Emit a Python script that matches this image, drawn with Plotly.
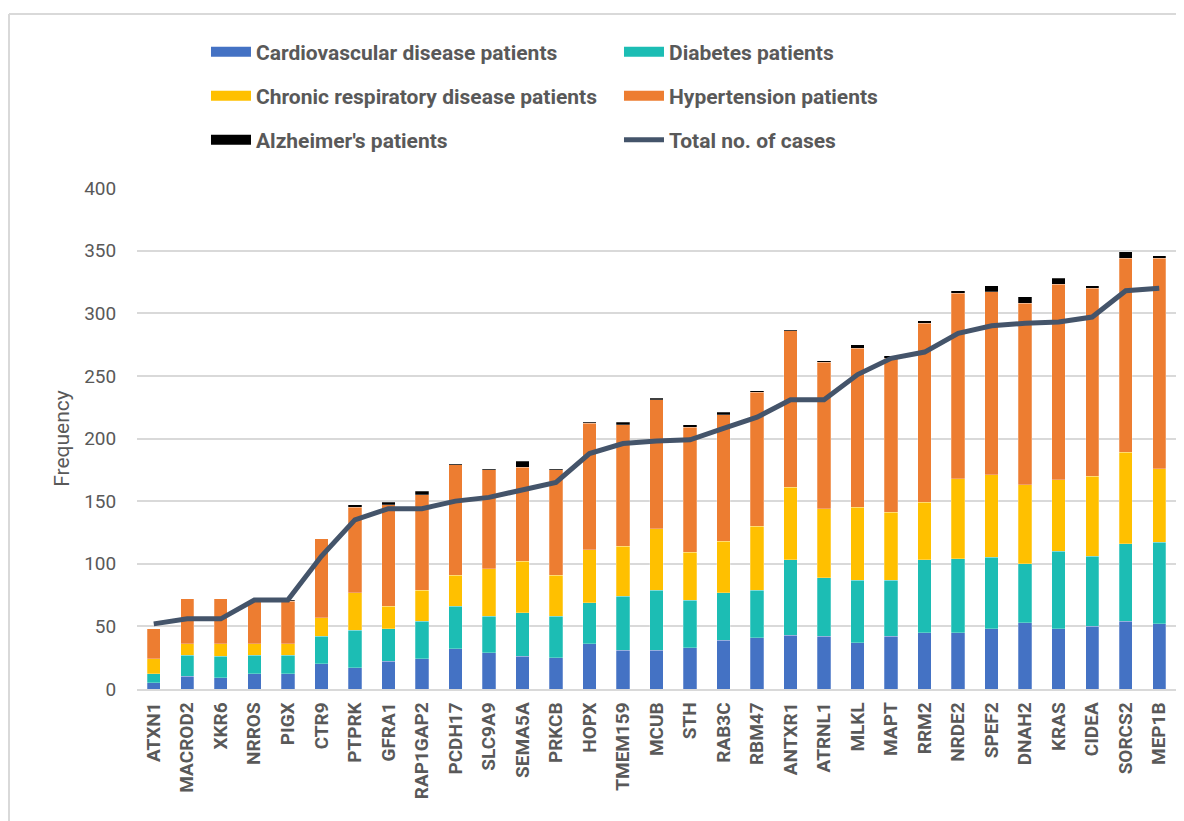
import plotly.graph_objects as go

genes = ["ATXN1", "MACROD2", "XKR6", "NRROS", "PIGX", "CTR9", "PTPRK", "GFRA1", "RAP1GAP2",
         "PCDH17", "SLC9A9", "SEMA5A", "PRKCB", "HOPX", "TMEM159", "MCUB", "STH", "RAB3C",
         "RBM47", "ANTXR1", "ATRNL1", "MLKL", "MAPT", "RRM2", "NRDE2", "SPEF2", "DNAH2",
         "KRAS", "CIDEA", "SORCS2", "MEP1B"]

cardiovascular = [5, 10, 9, 12, 12, 20, 17, 22, 24, 32, 29, 26, 25, 36, 31, 31, 33, 39, 41,
                  43, 42, 37, 42, 45, 45, 48, 53, 48, 50, 54, 52]
diabetes = [7, 17, 17, 15, 15, 22, 30, 26, 30, 34, 29, 35, 33, 33, 43, 48, 38, 38, 38,
            60, 47, 50, 45, 58, 59, 57, 47, 62, 56, 62, 65]
respiratory = [12, 9, 10, 9, 9, 15, 30, 18, 25, 25, 38, 41, 33, 42, 40, 49, 38, 41, 51,
               58, 55, 58, 54, 46, 64, 66, 63, 57, 64, 73, 59]
hypertension = [24, 36, 36, 34, 34, 63, 68, 81, 76, 88, 79, 75, 84, 101, 97, 103, 100, 101, 107,
                125, 117, 127, 123, 143, 148, 146, 145, 156, 150, 155, 168]
alzheimers = [0, 0, 0, 0, 1, 0, 2, 2, 3, 1, 1, 5, 1, 1, 2, 1, 2, 2, 1,
              1, 1, 3, 2, 2, 2, 5, 5, 5, 2, 5, 2]
total_cases = [52, 56, 56, 71, 71, 106, 135, 144, 144, 150, 153, 159, 165, 188, 196, 198, 199,
               208, 217, 231, 231, 251, 264, 269, 284, 290, 292, 293, 297, 318, 320]

series = [
    ("Cardiovascular disease patients", cardiovascular, "#4472C4", "legend"),
    ("Diabetes patients", diabetes, "#1CBDB4", "legend"),
    ("Chronic respiratory disease patients", respiratory, "#FFC000", "legend2"),
    ("Hypertension patients", hypertension, "#ED7D31", "legend2"),
    ("Alzheimer's patients", alzheimers, "#000000", "legend3"),
]
line_color = "#44546A"

fig = go.Figure()
for name, vals, color, leg in series:
    fig.add_trace(go.Bar(
        x=genes, y=vals, name=name, showlegend=False,
        marker=dict(color=color, line=dict(color="rgba(255,255,255,0.5)", width=0.5)),
    ))

fig.add_trace(go.Scatter(
    x=genes, y=total_cases, name="Total no. of cases", mode="lines",
    line=dict(color=line_color, width=5), showlegend=False,
))

# legend-only entries (wide rectangular swatches)
for name, vals, color, leg in series:
    fig.add_trace(go.Scatter(
        x=[None], y=[None], name=name, mode="lines", legend=leg,
        line=dict(color=color, width=10),
    ))
fig.add_trace(go.Scatter(
    x=[None], y=[None], name="Total no. of cases", mode="lines", legend="legend3",
    line=dict(color=line_color, width=5),
))

grey = "#595959"
leg_common = dict(
    orientation="h", x=0.0664, xanchor="left", yanchor="middle",
    entrywidth=358, entrywidthmode="pixels",
    font=dict(family="Roboto", size=21, color=grey, weight="bold"),
    itemwidth=40, traceorder="normal", bgcolor="rgba(0,0,0,0)",
)

fig.update_layout(
    barmode="stack",
    bargap=0.6,
    width=1184, height=821,
    margin=dict(l=129, r=16, t=180, b=140),
    paper_bgcolor="white",
    plot_bgcolor="white",
    font=dict(family="Roboto, sans-serif", color=grey),
    legend=dict(leg_common, y=1.2715),
    legend2=dict(leg_common, y=1.1836),
    legend3=dict(leg_common, y=1.0958),
    xaxis=dict(
        type="category",
        tickangle=-90,
        tickfont=dict(family="Roboto", size=19, color=grey, weight="bold"),
        showgrid=False,
        showline=True, linecolor="#D9D9D9", linewidth=1.5,
        ticks="outside", ticklen=4, tickcolor="white",
    ),
    yaxis=dict(
        range=[0, 400],
        dtick=50,
        tickfont=dict(family="Roboto", size=19, color=grey),
        gridcolor="#D9D9D9", gridwidth=1.5,
        zeroline=False,
        ticks="outside", ticklen=16, tickcolor="white",
        title=dict(text="Frequency", font=dict(family="Roboto", size=21, color=grey), standoff=8),
    ),
    shapes=[
        dict(type="line", xref="paper", yref="paper", x0=-0.1232, x1=1.0067, y0=1.3473, y1=1.3473,
             line=dict(color="#D9D9D9", width=2)),
        dict(type="line", xref="paper", yref="paper", x0=-0.1232, x1=-0.1232, y0=1.3473, y1=-0.27,
             line=dict(color="#D9D9D9", width=2)),
    ],
)

fig.write_html("out.html")
